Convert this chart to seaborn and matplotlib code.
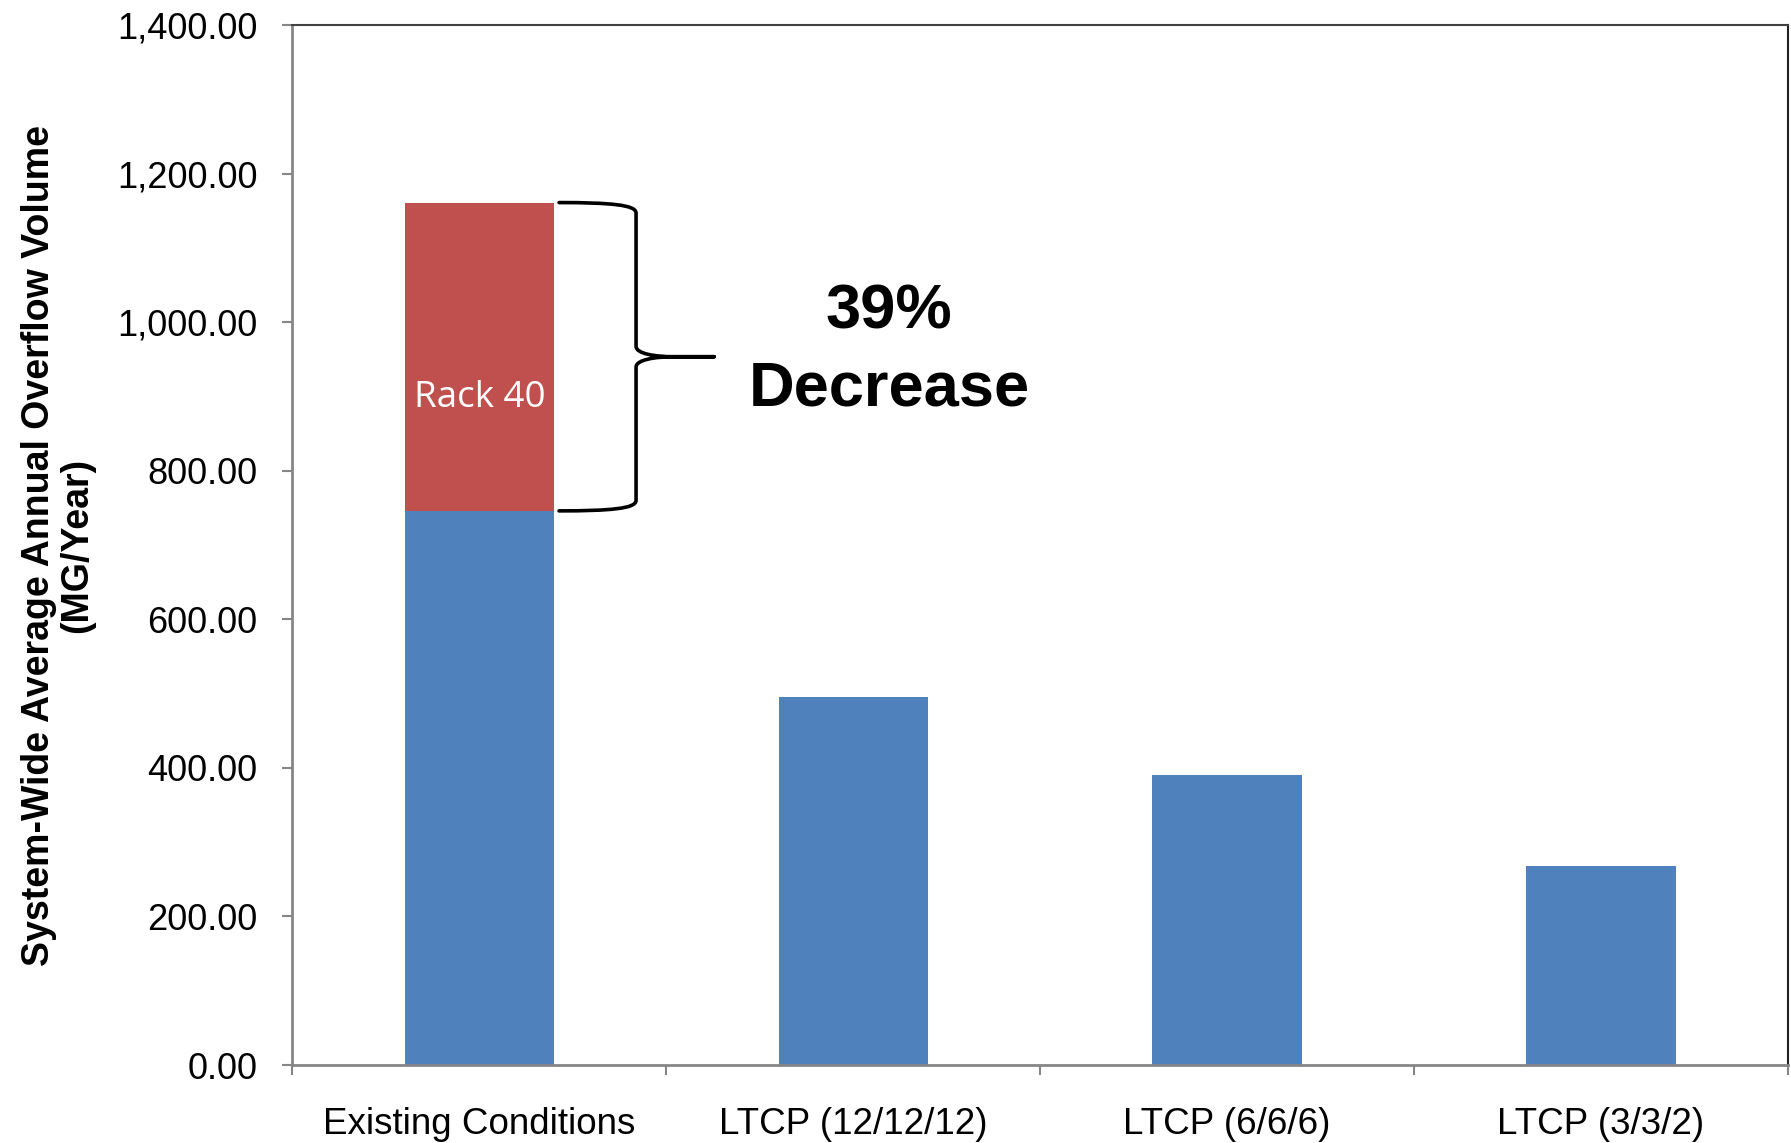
import matplotlib
matplotlib.use("Agg")
import matplotlib.pyplot as plt
import seaborn as sns
import pandas as pd
from matplotlib.path import Path
from matplotlib.patches import PathPatch
from matplotlib.ticker import FuncFormatter

# ---- data ----
categories = ["Existing Conditions", "LTCP (12/12/12)", "LTCP (6/6/6)", "LTCP (3/3/2)"]
base_values = [746, 496, 390, 268]
rack40_values = [415, 0, 0, 0]
ytick_values = [0, 200, 400, 600, 800, 1000, 1200, 1400]
rack_label = "Rack 40"
callout_lines = ["39%", "Decrease"]
ylabel_text = "System-Wide Average Annual Overflow Volume\n(MG/Year)"

BLUE = "#4F81BD"
RED = "#C0504D"
AXIS_GRAY = "#868686"

sns.set_theme(style="white")
plt.rcParams['font.family'] = ['Liberation Sans', 'DejaVu Sans']

totals = [b + r for b, r in zip(base_values, rack40_values)]
df = pd.DataFrame({"category": categories, "base": base_values, "total": totals})

fig = plt.figure(figsize=(17.91, 11.43), dpi=100)
ax = fig.add_axes([0.1633, 0.0682, 0.835, 0.9099])

sns.barplot(data=df, x="category", y="total", hue="category",
            palette=[RED if r > 0 else BLUE for r in rack40_values],
            width=0.4, legend=False, ax=ax, saturation=1, linewidth=0, errorbar=None)
sns.barplot(data=df, x="category", y="base", color=BLUE,
            width=0.4, ax=ax, saturation=1, linewidth=0, errorbar=None)

ax.set_xlim(-0.5, len(categories) - 0.5)
ax.set_ylim(ytick_values[0], ytick_values[-1])
ax.set_yticks(ytick_values)
ax.yaxis.set_major_formatter(FuncFormatter(lambda v, p: f"{v:,.2f}"))
ax.set_xticks(range(len(categories)))
ax.set_xticklabels(categories)
ax.set_xticks([i - 0.5 for i in range(len(categories) + 1)], minor=True)
ax.set_xlabel("")
ax.set_ylabel(ylabel_text, fontsize=27, fontweight="bold", labelpad=16,
              linespacing=1.05, color="black")

ax.tick_params(axis="y", which="major", direction="out", length=7.2, width=1.5,
               color=AXIS_GRAY, labelsize=26, pad=18, left=True, labelcolor="black")
ax.tick_params(axis="x", which="major", length=0, labelsize=26.5, pad=30, labelcolor="black")
ax.tick_params(axis="x", which="minor", direction="out", length=7.2, width=1.5,
               color=AXIS_GRAY, bottom=True)

for side in ["left", "bottom"]:
    ax.spines[side].set_color(AXIS_GRAY)
    ax.spines[side].set_linewidth(2.0)
ax.spines["top"].set_color("#404040")
ax.spines["top"].set_linewidth(1.5)
ax.spines["right"].set_color("#202020")
ax.spines["right"].set_linewidth(1.5)

# Rack 40 label inside red segment
ax.text(0, 886, rack_label, color="white", fontsize=26.5, ha="center", va="baseline",
        family=["Open Sans", "DejaVu Sans"])

# brace
top = totals[0]
bot = base_values[0]
mid = (top + bot) / 2
x0, xv, xt, xb = 0.213, 0.419, 0.628, 0.52
r = 14
verts = [
    (x0, top),
    (0.35, top), (xv, top - 3), (xv, top - r),
    (xv, mid + r),
    (xv, mid + 4), (0.47, mid), (xb, mid),
    (xt, mid),
    (xb, mid),
    (0.47, mid), (xv, mid - 4), (xv, mid - r),
    (xv, bot + r),
    (xv, bot + 3), (0.35, bot), (x0, bot),
]
codes = [Path.MOVETO,
         Path.CURVE4, Path.CURVE4, Path.CURVE4,
         Path.LINETO,
         Path.CURVE4, Path.CURVE4, Path.CURVE4,
         Path.LINETO,
         Path.LINETO,
         Path.CURVE4, Path.CURVE4, Path.CURVE4,
         Path.LINETO,
         Path.CURVE4, Path.CURVE4, Path.CURVE4]
brace = PathPatch(Path(verts, codes), fill=False, lw=2.6, edgecolor="black",
                  capstyle="round", joinstyle="round", clip_on=False)
ax.add_patch(brace)

ax.text(1.096, 991.7, callout_lines[0], fontsize=45.5, fontweight="bold",
        ha="center", va="baseline", color="black")
ax.text(1.096, 888.4, callout_lines[1], fontsize=45.5, fontweight="bold",
        ha="center", va="baseline", color="black")

fig.savefig("out.png", dpi=100)
